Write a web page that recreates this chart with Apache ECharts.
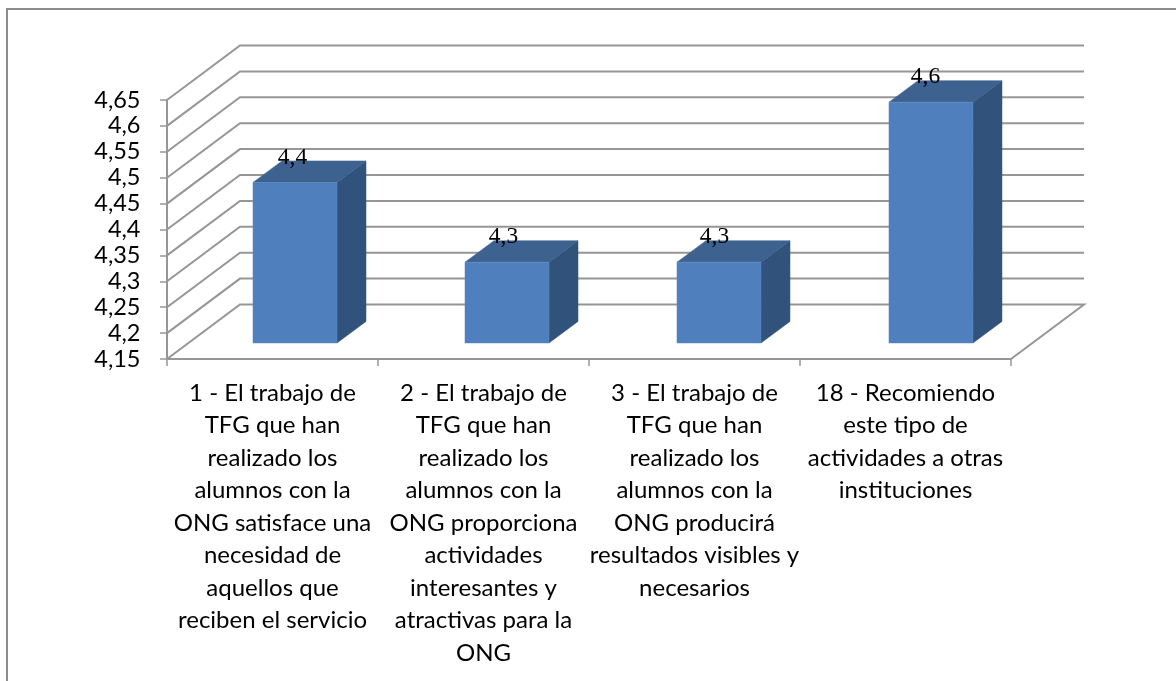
<!DOCTYPE html>
<html><head><meta charset="utf-8">
<style>html,body{margin:0;padding:0;background:#fff}#c{width:1176px;height:681px}</style>
<script src="https://cdn.jsdelivr.net/npm/echarts@6/dist/echarts.min.js"></script>
</head><body><div id="c"></div>
<script>
const categories = [
  "1 - El trabajo de\nTFG que han\nrealizado los\nalumnos con la\nONG satisface una\nnecesidad de\naquellos que\nreciben el servicio",
  "2 - El trabajo de\nTFG que han\nrealizado los\nalumnos con la\nONG proporciona\nactividades\ninteresantes y\natractivas para la\nONG",
  "3 - El trabajo de\nTFG que han\nrealizado los\nalumnos con la\nONG producirá\nresultados visibles y\nnecesarios",
  "18 - Recomiendo\neste tipo de\nactividades a otras\ninstituciones"
];
const values = [4.46, 4.306, 4.306, 4.615];
const valueLabels = ["4,4", "4,3", "4,3", "4,6"];
const gridValues = [4.15,4.2,4.25,4.3,4.35,4.4,4.45,4.5,4.55,4.6,4.65];

const DX = 73, DY = -54.5;
const BAR_W = 84, BAR_DX = 29, BAR_DY = -21.5, FRONT_DX = 22, FRONT_DY = -16, SPREAD = 1.0047;
const GRID = '#969696';

function wallItem(params, api) {
  const v = api.value(0), cs = params.coordSys;
  const y = api.coord([0, v])[1];
  const l = cs.x, r = cs.x + cs.width;
  const isFloor = params.dataIndex === 0;
  const pts = [[l, y], [l + DX, y + DY], [r + DX, y + DY]];
  if (isFloor) pts.push([r, y]);
  return { type: 'polyline', shape: { points: pts }, style: { fill: null, stroke: GRID, lineWidth: 2 }, silent: true };
}
function barItem(params, api) {
  const c = api.coord([api.value(0), api.value(1)]);
  const base = api.coord([api.value(0), gridValues[0]]);
  const cx = params.coordSys.x + (c[0] - params.coordSys.x) * SPREAD;
  const x0 = cx - BAR_W / 2 + FRONT_DX;
  const x1 = x0 + BAR_W;
  const yb = base[1] + FRONT_DY, yt = c[1] + FRONT_DY;
  const poly = (p, fill) => ({ type: 'polygon', shape: { points: p }, style: { fill, stroke: fill, lineWidth: 0.5 } });
  return { type: 'group', children: [
    poly([[x1, yt], [x1 + BAR_DX, yt + BAR_DY], [x1 + BAR_DX, yb + BAR_DY], [x1, yb]], '#31527A'),
    poly([[x0, yt], [x0 + BAR_DX, yt + BAR_DY], [x1 + BAR_DX, yt + BAR_DY], [x1, yt]], '#3E628F'),
    { type: 'rect', shape: { x: x0, y: yt, width: BAR_W, height: yb - yt }, style: { fill: '#4F7FBC', stroke: '#5A8AC6', lineWidth: 0.5 } },
    { type: 'text', style: { x: c[0] + 20, y: yt - 25, text: valueLabels[params.dataIndex], align: 'center', verticalAlign: 'middle',
      font: '23.5px "Liberation Serif"', fill: '#000' } }
  ] };
}
const chart = echarts.init(document.getElementById('c'), null, { renderer: 'canvas' });
chart.setOption({
  animation: false,
  backgroundColor: '#fff',
  grid: { left: 167, right: 165, top: 100, height: 259, containLabel: false },
  xAxis: { type: 'category', data: categories, boundaryGap: true,
    axisLine: { lineStyle: { color: GRID, width: 2 } },
    axisTick: { show: true, length: 7, alignWithLabel: false, lineStyle: { color: GRID, width: 1.5 } },
    axisLabel: { interval: 0, margin: 18, lineHeight: 32.5, fontFamily: 'Lato', fontSize: 24, color: '#000', align: 'center', verticalAlign: 'top' }
  },
  yAxis: { type: 'value', min: 4.15, max: 4.65, interval: 0.05,
    splitLine: { show: false },
    axisLine: { show: true, lineStyle: { color: GRID, width: 2 } },
    axisTick: { show: true, length: 7, lineStyle: { color: GRID, width: 1.5 } },
    axisLabel: { margin: 26.5, padding: [6, 0, 0, 0], fontFamily: 'Lato', fontSize: 23.5, color: '#000',
      formatter: v => String(+v.toFixed(2)).replace('.', ',') }
  },
  series: [
    { type: 'custom', coordinateSystem: 'cartesian2d', renderItem: wallItem, data: gridValues.map(v => [v]), encode: { y: 0 }, silent: true, z: 1 },
    { type: 'custom', coordinateSystem: 'cartesian2d', renderItem: barItem, data: values.map((v, i) => [i, v]), encode: { x: 0, y: 1 }, z: 3 }
  ],
  graphic: [{ type: 'polyline', shape: { points: [[7, 681], [7, 9], [1176, 9]] }, style: { fill: null, stroke: '#8c8c8c', lineWidth: 2 }, z: 0 }]
});
</script></body></html>
